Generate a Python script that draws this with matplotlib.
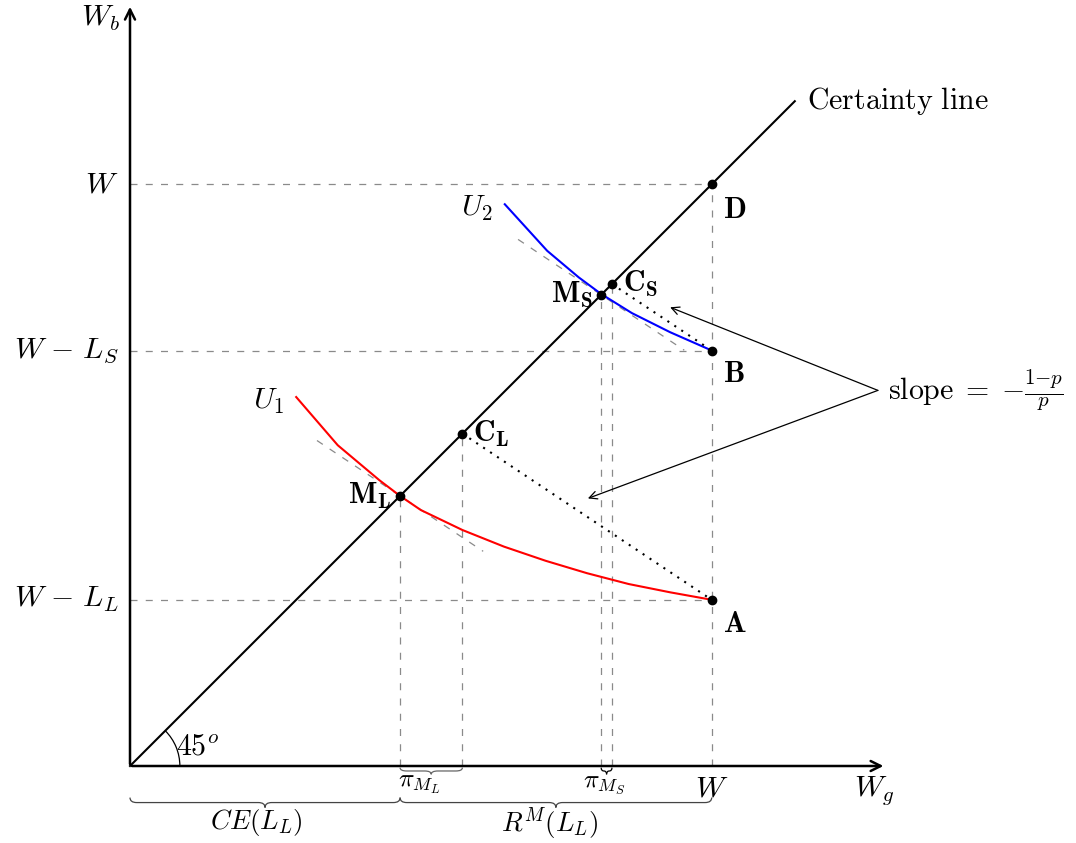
import numpy as np
import matplotlib
matplotlib.use("Agg")
import matplotlib.pyplot as plt
from matplotlib.path import Path
from matplotlib.patches import PathPatch, Arc

plt.rcParams['mathtext.fontset'] = 'cm'

# wealth levels
W = 7.0
W_LS = 5.0
W_LL = 2.0
line_end = 8.0

# certainty equivalents / expected wealth on the 45 degree line
M_L = 3.25
C_L = 4.0
M_S = 5.67
C_S = 5.8
slope = -2.0 / 3.0

# indifference curves
u1_x = [2.0, 2.5, 3.0, 3.25, 3.5, 4.0, 4.5, 5.0, 5.5, 6.0, 6.5, 7.0]
u1_y = [4.44, 3.86, 3.44, 3.25, 3.08, 2.84, 2.64, 2.47, 2.32, 2.19, 2.09, 2.0]
u2_x = [4.51, 5.02, 5.4, 5.67, 6.04, 6.5, 7.0]
u2_y = [6.76, 6.2, 5.88, 5.68, 5.45, 5.22, 5.0]

px = 83.1  # pixels per unit
fig = plt.figure(figsize=(10.76, 8.43), dpi=100)
ax = fig.add_axes([0, 0, 1, 1])
ax.set_xlim(-130 / px, (1076 - 130) / px)
ax.set_ylim(-(843 - 766) / px, 766 / px)
ax.axis('off')

fs = 21.5
dash = dict(color='#8a8a8a', lw=0.9, ls=(0, (5.6, 6.6)))

# guide lines
for yv in [W, W_LS, W_LL]:
    ax.plot([0, W], [yv, yv], **dash)
ax.plot([W, W], [0, W], **dash)
for xv in [M_L, C_L, M_S, C_S]:
    ax.plot([xv, xv], [0, xv], **dash)

# tangents
for m in [M_L, M_S]:
    t = np.array([-1.0, 1.0])
    ax.plot(m + t, m + slope * t, **dash)

# axes arrows
ax.annotate('', xy=(9.1, 0), xytext=(-0.01, 0),
            arrowprops=dict(arrowstyle='->', lw=1.8, color='black', mutation_scale=18))
ax.annotate('', xy=(0, 9.17), xytext=(0, -0.01),
            arrowprops=dict(arrowstyle='->', lw=1.8, color='black', mutation_scale=18))

# certainty line
ax.plot([0, line_end], [0, line_end], color='black', lw=1.5)

# curves
ax.plot(u1_x, u1_y, color='red', lw=1.5)
ax.plot(u2_x, u2_y, color='blue', lw=1.5)

# dotted budget lines
ax.plot([C_L, W], [C_L, W_LL], color='black', lw=1.5, ls=(0, (1, 3)))
ax.plot([C_S, W], [C_S, W_LS], color='black', lw=1.5, ls=(0, (1, 3)))

# points
pts_x = [W, W, W, M_L, C_L, M_S, C_S]
pts_y = [W, W_LS, W_LL, M_L, C_L, M_S, C_S]
ax.plot(pts_x, pts_y, 'o', color='black', ms=6)

# 45 degree arc
ax.add_patch(Arc((0, 0), 1.2, 1.2, theta1=0, theta2=45, lw=0.9, color='black'))
ax.text(0.55, 0.24, r'$45^o$', fontsize=fs, ha='left', va='center')


def brace(x0, x1, y, h, color='black', lw=0.9):
    xm = (x0 + x1) / 2
    r = min(0.08, (x1 - x0) / 4)
    verts = [(x0, y), (x0, y - h / 2), (x0 + r, y - h / 2),
             (xm - r, y - h / 2),
             (xm, y - h / 2), (xm, y - h),
             (xm, y - h / 2), (xm + r, y - h / 2),
             (x1 - r, y - h / 2),
             (x1, y - h / 2), (x1, y)]
    codes = [Path.MOVETO, Path.CURVE3, Path.CURVE3, Path.LINETO,
             Path.CURVE3, Path.CURVE3, Path.CURVE3, Path.CURVE3,
             Path.LINETO, Path.CURVE3, Path.CURVE3]
    ax.add_patch(PathPatch(Path(verts, codes), fill=False, color=color, lw=lw))


brace(M_L, C_L, -0.02, 0.08, color='#666666')
brace(M_S, C_S, -0.02, 0.08)
brace(0, M_L, -0.38, 0.12, color='#444444')
brace(M_L, W, -0.38, 0.12, color='#444444')

ax.text((M_L + C_L) / 2 - 0.15, -0.21, r'$\pi_{M_L}$', fontsize=fs - 3, ha='center', va='center')
ax.text((M_S + C_S) / 2 - 0.03, -0.21, r'$\pi_{M_S}$', fontsize=fs - 3, ha='center', va='center')
ax.text(M_L / 2 - 0.1, -0.68, r'$CE(L_L)$', fontsize=fs - 2, ha='center', va='center')
ax.text((M_L + W) / 2 - 0.08, -0.7, r'$R^M(L_L)$', fontsize=fs - 2, ha='center', va='center')

# axis labels
ax.text(-0.12, 9.0, r'$W_b$', fontsize=fs, ha='right', va='center')
ax.text(8.95, -0.3, r'$W_g$', fontsize=fs, ha='center', va='center')
ax.text(W, -0.26, r'$W$', fontsize=fs, ha='center', va='center')
ax.text(-0.14, W, r'$W$', fontsize=fs, ha='right', va='center')
ax.text(-0.14, W_LS, r'$W\ {-}\ L_S$', fontsize=fs, ha='right', va='center')
ax.text(-0.14, W_LL, r'$W\ {-}\ L_L$', fontsize=fs, ha='right', va='center')

ax.text(line_end + 0.15, line_end, r'$\mathrm{Certainty\ line}$', fontsize=fs, ha='left', va='center')

# point labels
ax.text(W + 0.13, W - 0.3, r'$\mathbf{D}$', fontsize=fs, ha='left', va='center')
ax.text(W + 0.13, W_LS - 0.28, r'$\mathbf{B}$', fontsize=fs, ha='left', va='center')
ax.text(W + 0.13, W_LL - 0.28, r'$\mathbf{A}$', fontsize=fs, ha='left', va='center')
ax.text(C_L + 0.13, C_L, r'$\mathbf{C_L}$', fontsize=fs, ha='left', va='center')
ax.text(C_S + 0.13, C_S, r'$\mathbf{C_S}$', fontsize=fs, ha='left', va='center')
ax.text(M_L - 0.1, M_L, r'$\mathbf{M_L}$', fontsize=fs, ha='right', va='center')
ax.text(M_S - 0.1, M_S, r'$\mathbf{M_S}$', fontsize=fs, ha='right', va='center')
ax.text(u1_x[0] - 0.15, u1_y[0] - 0.05, r'$U_1$', fontsize=fs, ha='right', va='center')
ax.text(u2_x[0] - 0.15, u2_y[0] - 0.05, r'$U_2$', fontsize=fs, ha='right', va='center')

# slope annotation
sx, sy = 9.0, 4.52
for tx, ty in [(6.5, 5.52), (5.51, 3.22)]:
    ax.annotate('', xy=(tx, ty), xytext=(sx, sy),
                arrowprops=dict(arrowstyle='->', lw=0.9, color='black', mutation_scale=14,
                                shrinkA=0, shrinkB=0))
ax.text(sx + 0.12, sy, r'$\mathrm{slope}\;{=}\;{-}\frac{1{-}p}{p}$', fontsize=fs, ha='left', va='center')

fig.savefig('out.png', dpi=100)
